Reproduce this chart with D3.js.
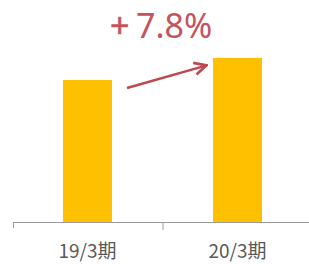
<!DOCTYPE html>
<html>
<head>
<meta charset="utf-8">
<script src="https://cdn.jsdelivr.net/npm/d3@7"></script>
<style>
  body { margin: 0; background: #fff; }
  svg { display: block; }
</style>
</head>
<body>
<svg width="309" height="264"></svg>
<script>
var periods = ['19/3期', '20/3期'];
var values = [100, 107.8];
var growthLabel = '+7.8%';

var width = 309;
var height = 264;
var baseY = 222;

var svg = d3.select('svg');

var x = d3.scaleBand()
          .domain(periods)
          .range([12.5, 312.5])
          .paddingInner(0.673)
          .paddingOuter(0.3365);

var y = d3.scaleLinear()
          .domain([50, 110])
          .range([baseY, baseY - 60 * 2.84]);

svg.selectAll('.bar')
   .data(values)
   .enter()
   .append('rect')
     .classed('bar', true)
     .attr('x', (d, i) => x(periods[i]))
     .attr('y', d => y(d))
     .attr('width', x.bandwidth())
     .attr('height', d => baseY - y(d))
     .attr('fill', '#ffc000');

// axis baseline and ticks
svg.append('line')
   .attr('x1', 13).attr('x2', width)
   .attr('y1', baseY + 0.5).attr('y2', baseY + 0.5)
   .attr('stroke', '#9a9a9a')
   .attr('stroke-width', 1);

var tickXs = [13, x(periods[0]) + x.step() - (x.step() - x.bandwidth()) / 2];
svg.selectAll('.tick')
   .data(tickXs)
   .enter()
   .append('line')
     .attr('x1', d => d + 0.5).attr('x2', d => d + 0.5)
     .attr('y1', baseY).attr('y2', (d, i) => i === 0 ? baseY + 6 : baseY + 8)
     .attr('stroke', '#9a9a9a');

svg.selectAll('.label')
   .data(periods)
   .enter()
   .append('text')
     .attr('x', d => x(d) + x.bandwidth() / 2)
     .attr('y', 258)
     .attr('text-anchor', 'middle')
     .attr('font-family', '"Noto Sans CJK JP", sans-serif')
     .attr('font-size', 19)
     .attr('fill', '#595959')
     .text(d => d);

// growth arrow
svg.append('defs').append('marker')
   .attr('id', 'head')
   .attr('viewBox', '0 0 10 10')
   .attr('refX', 8).attr('refY', 5)
   .attr('markerWidth', 6).attr('markerHeight', 6)
   .attr('orient', 'auto')
   .append('path')
     .attr('d', 'M1,1 L9,5 L1,9')
     .attr('fill', 'none')
     .attr('stroke', '#c0474f')
     .attr('stroke-width', 1.8);

var x0 = x(periods[0]) + x.bandwidth() + 15;
var x1 = x(periods[1]) - 8;
svg.append('line')
   .attr('x1', x0).attr('y1', y(values[0]) + 8)
   .attr('x2', x1).attr('y2', y(values[1]) + 8)
   .attr('stroke', '#c0474f')
   .attr('stroke-width', 2.5)
   .attr('marker-end', 'url(#head)');

var label = svg.append('text')
   .attr('y', 38)
   .attr('font-family', '"Noto Sans", sans-serif')
   .attr('font-size', 34)
   .attr('fill', '#c4545c');
label.append('tspan').attr('x', 110).attr('stroke', '#c4545c').attr('stroke-width', 0.6).text(growthLabel.slice(0, 1));
label.append('tspan').attr('x', 136).text(growthLabel.slice(1));
</script>
</body>
</html>
